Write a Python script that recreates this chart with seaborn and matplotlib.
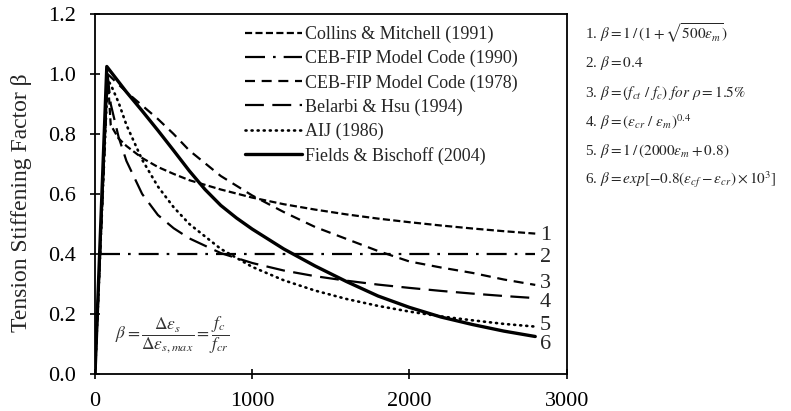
import matplotlib
matplotlib.use("Agg")
import matplotlib.pyplot as plt
import seaborn as sns
import pandas as pd

# ---------------- data ----------------
strain = [0, 80, 100, 150, 200, 300, 400, 500, 600, 800, 1000, 1200,
          1400, 1600, 1800, 2000, 2200, 2400, 2600, 2800]
collins = [0, 1.0, 0.83, 0.785, 0.76, 0.72, 0.69, 0.667, 0.646, 0.615, 0.588,
           0.566, 0.548, 0.532, 0.518, 0.506, 0.495, 0.485, 0.476, 0.468]
ceb78 = [0, 1.0, 0.99, 0.965, 0.94, 0.895, 0.85, 0.80, 0.745, 0.66, 0.595,
         0.54, 0.49, 0.45, 0.41, 0.375, 0.355, 0.337, 0.315, 0.297]
belarbi = [0, 1.0, 0.90, 0.79, 0.71, 0.60, 0.53, 0.486, 0.452, 0.403, 0.37,
           0.345, 0.326, 0.311, 0.298, 0.287, 0.277, 0.268, 0.26, 0.253]
aij = [0, 0.98, 0.965, 0.905, 0.83, 0.714, 0.625, 0.556, 0.5, 0.417, 0.357,
       0.3125, 0.278, 0.25, 0.227, 0.208, 0.192, 0.179, 0.167, 0.158]

ceb90_strain = [30, 2800]
ceb90 = [0.4, 0.4]

fields_strain = [0, 75, 200, 300, 400, 500, 600, 700, 800, 900, 1000, 1200,
                 1400, 1600, 1800, 2000, 2200, 2400, 2600, 2800]
fields = [0, 1.025, 0.94, 0.877, 0.812, 0.745, 0.677, 0.615, 0.562, 0.52,
          0.483, 0.417, 0.36, 0.308, 0.26, 0.222, 0.19, 0.165, 0.143, 0.125]

series_names = ["Collins & Mitchell (1991)", "CEB-FIP Model Code (1990)",
                "CEB-FIP Model Code (1978)", "Belarbi & Hsu (1994)",
                "AIJ (1986)", "Fields & Bischoff (2004)"]
curve_numbers = ["1", "2", "3", "4", "5", "6"]
number_y = [0.463, 0.39, 0.303, 0.237, 0.163, 0.097]

equations = [
    r"1. $\beta = 1\,/\,(1+\sqrt{500\varepsilon_m})$",
    r"2. $\beta = 0.4$",
    r"3. $\beta = (f_{ct}\ /\ f_c)\ for\ \rho = 1.5\%$",
    r"4. $\beta = (\varepsilon_{cr}\ /\ \varepsilon_m)^{0.4}$",
    r"5. $\beta = 1\,/\,(2000\varepsilon_m + 0.8)$",
    r"6. $\beta = exp[-0.8(\varepsilon_{cf} - \varepsilon_{cr})\times 10^3]$",
]
x_ticks = [0, 1000, 2000, 3000]
y_ticks = [0.0, 0.2, 0.4, 0.6, 0.8, 1.0, 1.2]

# ---------------- style ----------------
sns.set_style("ticks")
plt.rcParams["font.family"] = ["Liberation Serif", "DejaVu Serif"]
plt.rcParams["mathtext.fontset"] = "stix"

fig = plt.figure(figsize=(7.91, 4.11), dpi=100)
ax = fig.add_axes([95 / 791, 37 / 411, 471.7 / 791, 360 / 411])

specs = [
    (strain, collins, dict(lw=1.6, ls=(0, (3.2, 1.5)))),
    (ceb90_strain, ceb90, dict(lw=1.6, ls=(0, (9, 3.6, 1.2, 3.6)))),
    (strain, ceb78, dict(lw=1.6, ls=(0, (4.5, 3.0)))),
    (strain, belarbi, dict(lw=1.6, ls=(0, (8.5, 3.8)))),
    (strain, aij, dict(lw=1.9, ls=(0, (0.4, 1.9)), dash_capstyle="round")),
    (fields_strain, fields, dict(lw=2.4, ls="-")),
]
for (xs, ys, st), name in zip(specs, series_names):
    df = pd.DataFrame({"strain": xs, "beta": ys})
    kw = dict(st)
    lw = kw.pop("lw")
    ls = kw.pop("ls")
    sns.lineplot(data=df, x="strain", y="beta", ax=ax, color="black",
                 linewidth=lw, linestyle=ls, label=name, estimator=None,
                 sort=False, **kw)

ax.set_xlim(0, 3000)
ax.set_ylim(0, 1.2)
ax.set_xticks(x_ticks)
ax.set_yticks(y_ticks)
ax.set_yticklabels([f"{v:.1f}" for v in y_ticks])
ax.set_xlabel("")
ax.set_ylabel("Tension Stiffening Factor β", fontsize=17)
ax.yaxis.set_label_coords(-0.134, 0.475)
ax.tick_params(axis="both", direction="inout", length=7, width=1.2,
               labelsize=16, colors="black")
ax.tick_params(axis="x", pad=9.5)
ax.tick_params(axis="y", pad=10.5)
for s in ax.spines.values():
    s.set_visible(True)
    s.set_linewidth(1.3)
    s.set_color("black")

leg = ax.legend(loc="upper left", bbox_to_anchor=(0.318, 0.967),
                frameon=False, fontsize=13, handlelength=3.15,
                handletextpad=0.15, labelspacing=0.38, borderpad=0,
                borderaxespad=0)

for t, yv in zip(curve_numbers, number_y):
    ax.text(2830, yv, t, fontsize=16, ha="left", va="center")

ax.text(0.042, 0.108,
        r"$\beta = \dfrac{\Delta\varepsilon_s}{\Delta\varepsilon_{s,max}} = \dfrac{f_c}{f_{cr}}$",
        transform=ax.transAxes, fontsize=12.5, ha="left", va="center",
        color="#333333")

eq_y = [33, 63, 93, 122, 151, 180]
for e, py in zip(equations, eq_y):
    fig.text(585 / 791, 1 - py / 411, e, fontsize=11, ha="left", va="center")

fig.savefig("out.png", dpi=100)
